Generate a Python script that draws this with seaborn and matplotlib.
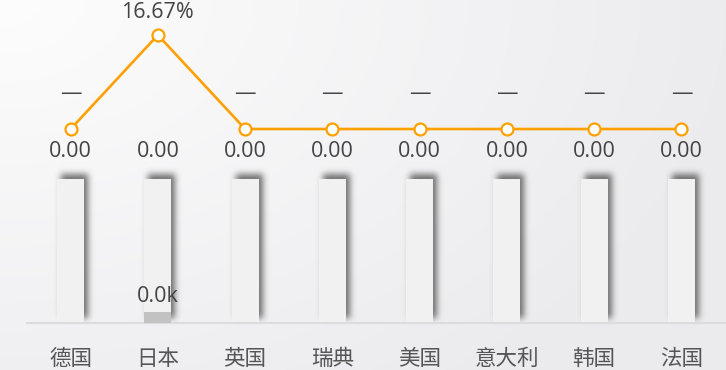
import numpy as np
import pandas as pd
import matplotlib
matplotlib.use("Agg")
import matplotlib.pyplot as plt
import seaborn as sns

# ---------------- data ----------------
countries = ['德国', '日本', '英国', '瑞典', '美国', '意大利', '韩国', '法国']
sales = [0, 20, 0, 0, 0, 0, 0, 0]                 # bar series (shown as k)
bg_values = [260, 260, 260, 260, 260, 260, 260, 260]  # background "track" bars
share_pct = [0, 16.67, 0, 0, 0, 0, 0, 0]           # line series (%)
growth = [0.00, 0.00, 0.00, 0.00, 0.00, 0.00, 0.00, 0.00]

sns.set_theme(style="white")
plt.rcParams['font.family'] = ['Noto Sans CJK SC', 'DejaVu Sans']
NUMFONT = ['Open Sans', 'Noto Sans CJK SC', 'DejaVu Sans']
TXT = '#444444'

W, H = 726, 370
fig = plt.figure(figsize=(W / 100, H / 100), dpi=100)

# background gradient
bgax = fig.add_axes([0, 0, 1, 1], zorder=-10)
yy, xx = np.mgrid[0:H, 0:W]
t = np.clip(np.sqrt((xx / W) ** 2 * 0.8 + (yy / H) ** 2 * 0.5) / 0.9, 0, 1)
c0 = np.array([0.992, 0.992, 0.992])
c1 = np.array([0.925, 0.925, 0.937])
img = c0[None, None, :] * (1 - t[..., None]) + c1[None, None, :] * t[..., None]
bgax.imshow(img, aspect='auto', extent=[0, 1, 0, 1])
bgax.axis('off')


class DropShadow:
    def __init__(self, sigma=3.2, ox=4, oy=5, color=(0.35, 0.35, 0.35), alpha=0.85):
        self.sigma, self.ox, self.oy = sigma, ox, oy
        self.color, self.alpha = color, alpha

    def __call__(self, im, dpi):
        pad = int(3 * self.sigma + max(abs(self.ox), abs(self.oy))) + 2
        a = np.pad(im[:, :, 3], pad)
        r = int(3 * self.sigma)
        xk = np.arange(-r, r + 1)
        k = np.exp(-xk ** 2 / (2 * self.sigma ** 2))
        k /= k.sum()
        a = np.apply_along_axis(lambda v: np.convolve(v, k, mode='same'), 0, a)
        a = np.apply_along_axis(lambda v: np.convolve(v, k, mode='same'), 1, a)
        a = np.roll(a, self.ox, axis=1)
        a = np.roll(a, -self.oy, axis=0)
        out = np.zeros(a.shape + (4,))
        out[..., :3] = self.color
        out[..., 3] = np.clip(a * self.alpha, 0, 1)
        return out, -pad, -pad


df = pd.DataFrame({'country': countries, 'sales': sales, 'bg': bg_values,
                   'pct': share_pct, 'growth': growth})

ax = fig.add_axes([27 / W, 47 / H, 698 / W, 323 / H])
ax.patch.set_alpha(0)

# shadow of track bars
sns.barplot(data=df, x='country', y='bg', color='#5a5a5a', width=0.31,
            saturation=1, errorbar=None, ax=ax, zorder=1)
for p in ax.containers[-1]:
    p.set_agg_filter(DropShadow())
    p.set_linewidth(0)
# track bar faces
sns.barplot(data=df, x='country', y='bg', color='#f1f1f2', width=0.31,
            saturation=1, errorbar=None, ax=ax, zorder=2, linewidth=0)
# actual value bars
sns.barplot(data=df, x='country', y='sales', color='#c2c2c2', width=0.31,
            saturation=1, errorbar=None, ax=ax, zorder=3, linewidth=0)

for i, v in enumerate(sales):
    if v > 0:
        ax.annotate(f"{v / 1000:.1f}k", (i, v), xytext=(0, 7), textcoords='offset points',
                    ha='center', va='baseline', fontsize=15.5, color=TXT, family=NUMFONT)

ax.set_xlim(-0.5, len(countries) - 0.5)
ax.set_ylim(0, max(bg_values) * 323 / 144)
for s in ['top', 'left', 'right']:
    ax.spines[s].set_visible(False)
ax.spines['bottom'].set_color('#dcdcdc')
ax.spines['bottom'].set_linewidth(1.5)
ax.set_yticks([])
ax.set_xlabel('')
ax.set_ylabel('')
ax.tick_params(axis='x', length=0, labelsize=15.5, labelcolor='#555555', pad=18)
ax.grid(False)

# line series on twin axis
ax2 = ax.twinx()
ax2.patch.set_alpha(0)
xpos = np.arange(len(countries))
sns.lineplot(x=xpos, y=share_pct, ax=ax2, color='#ffa000', linewidth=1.9,
             marker='o', markersize=8.6, markerfacecolor='white',
             markeredgecolor='#ffa000', markeredgewidth=1.6, zorder=5)
ax2.set_ylim(-34.4, 22.88)
ax2.set_xlim(-0.5, len(countries) - 0.5)
for s in ax2.spines.values():
    s.set_visible(False)
ax2.set_yticks([])
ax2.set_ylabel('')
ax2.grid(False)

for i, v in enumerate(share_pct):
    if v:
        ax2.annotate(f"{v:.2f}%", (i, v), xytext=(0, 12.4), textcoords='offset points',
                     ha='center', va='baseline', fontsize=15.5, color=TXT, family=NUMFONT)
    else:
        ax2.annotate("—", (i, v), xytext=(0, 21.6), textcoords='offset points',
                     ha='center', va='baseline', fontsize=15.5, color=TXT, family=NUMFONT)

for i, g in enumerate(growth):
    ax2.annotate(f"{g:.2f}", (i, g), xytext=(0, -20.2), textcoords='offset points',
                 ha='center', va='baseline', fontsize=15.5, color=TXT, family=NUMFONT)

fig.savefig('out.png', dpi=100)
